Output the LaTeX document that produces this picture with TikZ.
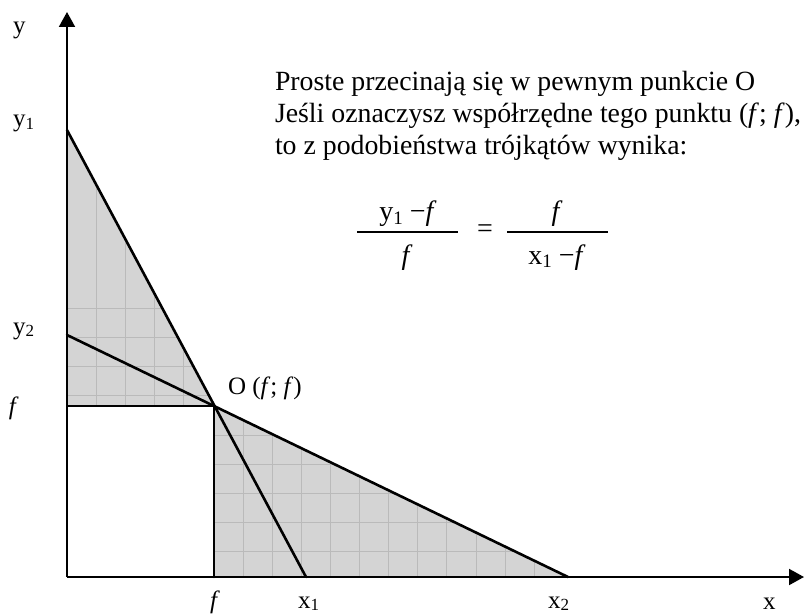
\documentclass[tikz,border=0pt]{standalone}
\usepackage{fontspec}
\setmainfont{Liberation Serif}
\usetikzlibrary{arrows.meta}
\definecolor{shadegray}{HTML}{D4D4D4}
\definecolor{gridgray}{HTML}{BABABA}
\newcommand\subn[1]{\raisebox{-0.25ex}{\fontsize{17}{17}\selectfont #1}}
\newcommand\subb[1]{\raisebox{-0.25ex}{\fontsize{19}{19}\selectfont #1}}
\newcommand\itf{\textit{f}}
\begin{document}
\begin{tikzpicture}[x=1pt,y=-1pt,
  every node/.style={inner sep=0pt, outer sep=0pt, font=\fontsize{25}{32}\selectfont},
  axisline/.style={line width=2pt, -{Triangle[length=15pt,width=16pt]}},
  mainline/.style={line width=2.6pt, line cap=round, line join=round},
  gridline/.style={draw=gridgray, line width=0.8pt},
  fracbar/.style={line width=1.4pt},
  lbl/.style={anchor=base west},
  bigtext/.style={anchor=base west, font=\fontsize{27.8}{32}\selectfont},
  fractext/.style={anchor=base, font=\fontsize{28}{32}\selectfont}]
\useasboundingbox (0,0) rectangle (804,615);
% key points
\coordinate (Or) at (67,577);
\coordinate (Y1) at (67,130);
\coordinate (Y2) at (67,335);
\coordinate (F) at (67,406);
\coordinate (O) at (214,406);
\coordinate (Fx) at (214,577);
\coordinate (X1) at (306,577);
\coordinate (X2) at (568,577);
\coordinate (Ytip) at (67,12);
\coordinate (Xtip) at (804,577);
% shaded triangles
\fill[shadegray] (Y1) -- (F) -- (O) -- cycle;
\fill[shadegray] (O) -- (Fx) -- (X2) -- cycle;
\begin{scope}
  \clip (Y1) -- (F) -- (O) -- cycle;
  \foreach \x in {96,125,154,183} \draw[gridline] (\x,100) -- (\x,410);
  \foreach \y in {308,337,366,395} \draw[gridline] (60,\y) -- (220,\y);
\end{scope}
\begin{scope}
  \clip (O) -- (Fx) -- (X2) -- cycle;
  \foreach \k in {1,...,12} \draw[gridline] ({214+29.1*\k},400) -- ({214+29.1*\k},580);
  \foreach \y in {435,464,493,522,551} \draw[gridline] (210,\y) -- (570,\y);
\end{scope}
% axes
\draw[axisline] (Or) -- (Ytip);
\draw[axisline] (Or) -- (Xtip);
% lines
\draw[mainline] (Y1) -- (X1);
\draw[mainline] (Y2) -- (X2);
\draw[mainline] (Y1) -- (F) -- (O) -- (Fx);
% axis labels
\node[lbl] (ly) at (13,34) {y};
\node[lbl] (ly1) at (13,127) {y\subn{1}};
\node[lbl] (ly2) at (13,334) {y\subn{2}};
\node[lbl] (lf) at (9,414) {\itf};
\node[lbl] (lO) at (228,394) {O (\itf; \itf)};
\node[lbl] (lfx) at (210,608) {\itf};
\node[lbl] (lx1) at (298,608) {x\subn{1}};
\node[lbl] (lx2) at (548,608) {x\subn{2}};
\node[lbl] (lx) at (763,609) {x};
% text
\node[bigtext] (t1) at (275,91) {Proste przecinają się w pewnym punkcie O};
\node[bigtext] (t2) at (275,123) {Jeśli oznaczysz współrzędne tego punktu (\itf; \itf),};
\node[bigtext] (t3) at (275,155) {to z podobieństwa trójkątów wynika:};
% fraction
\node[fractext] (n1) at (408,221) {y\subb{1} −\itf};
\node[fractext] (d1) at (407,264) {\itf};
\draw[fracbar] (357,232) -- (458,232);
\node[font=\fontsize{28}{32}\selectfont] (eq) at (485,231) {=};
\node[fractext] (n2) at (557,221) {\itf};
\node[fractext] (d2) at (557,264) {x\subb{1} −\itf};
\draw[fracbar] (507,232) -- (608,232);
\end{tikzpicture}
\end{document}
